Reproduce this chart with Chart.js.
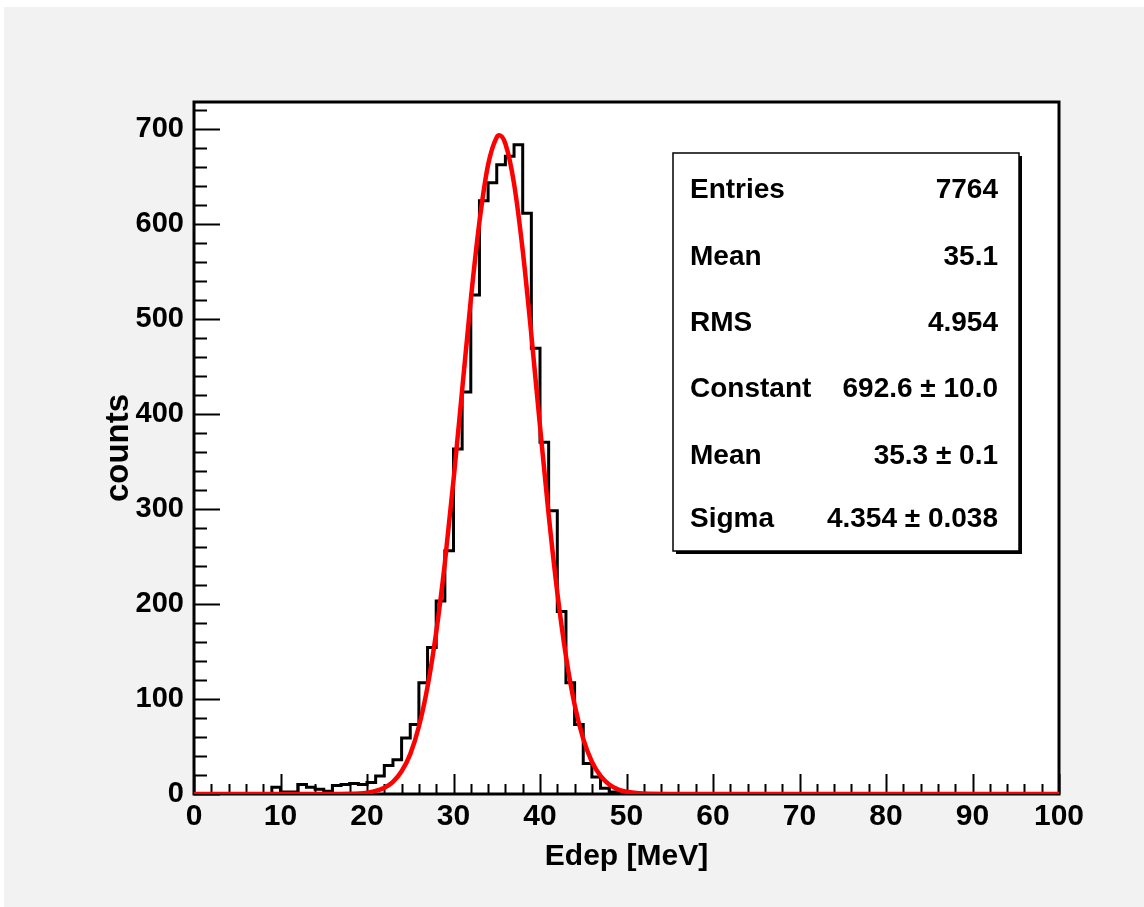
<!DOCTYPE html>
<html>
<head>
<meta charset="utf-8">
<title>Edep</title>
<script src="https://cdn.jsdelivr.net/npm/chart.js@4.4.1/dist/chart.umd.min.js"></script>
<style>
  body { margin: 0; background: #fff; }
  #wrap { position: absolute; left: 0; top: 0; width: 1144px; height: 907px; }
</style>
</head>
<body>
<div id="wrap"><canvas id="edep" width="1144" height="907"></canvas></div>
<script>
// histogram contents, 1 MeV bins from 0 to 100
const counts = [
    0, 0, 0, 0, 0, 0, 0, 0, 0, 7,
    2, 2, 10, 7, 5, 3, 9, 10, 11, 10,
    12, 19, 30, 36, 59, 73, 117, 154, 203, 256,
    363, 423, 525, 624, 643, 662, 671, 683, 611, 469,
    370, 298, 192, 117, 73, 32, 18, 6, 2, 1,
    0, 0, 0, 0, 0, 0, 0, 0, 0, 0,
    0, 0, 0, 0, 0, 0, 0, 0, 0, 0,
    0, 0, 0, 0, 0, 0, 0, 0, 0, 0,
    0, 0, 0, 0, 0, 0, 0, 0, 0, 0,
    0, 0, 0, 0, 0, 0, 0, 0, 0, 0
];

// red fit curve
const fitX = [0, 15, 18, 20, 21, 22, 23, 24, 25, 26, 27, 28, 29, 30, 31, 32, 33, 34, 35, 35.3,
              36, 37, 38, 39, 40, 41, 42, 43, 44, 45, 46, 47, 48, 49, 50, 52, 55, 100];
const fitY = [0, 0, 0.2, 1.4, 3.2, 6.5, 12.8, 24, 42, 71, 113, 170, 243, 330, 425, 520, 602, 662, 691, 693,
              684, 642, 572, 483, 387, 294, 212, 145, 94, 58, 34, 19, 10, 4.9, 2.3, 0.4, 0, 0];

const xTicks = [0, 10, 20, 30, 40, 50, 60, 70, 80, 90, 100];
const yTicks = [0, 100, 200, 300, 400, 500, 600, 700];

const statLabels = ['Entries', 'Mean', 'RMS', 'Constant', 'Mean', 'Sigma'];
const statValues = ['7764', '35.1', '4.954', '692.6 \u00b1 10.0', '35.3 \u00b1 0.1', '4.354 \u00b1 0.038'];

const FONT = '"Liberation Sans", Arial, Helvetica, sans-serif';

let histPoints = [];
for (let i = 0; i < counts.length; i++) {
    histPoints.push({x: i, y: counts[i]});
}
histPoints.push({x: counts.length, y: counts[counts.length - 1]});

let fitPoints = fitX.map((x, i) => ({x: x, y: fitY[i]}));

// ROOT style frame: grey pad, white frame, inward ticks, stats box
const rootFrame = {
    id: 'rootFrame',
    beforeDraw(chart) {
        const ctx = chart.ctx;
        const a = chart.chartArea;
        ctx.save();
        ctx.fillStyle = '#f2f2f2';
        ctx.fillRect(4, 7, chart.width - 4, chart.height - 7);
        ctx.fillStyle = '#fff';
        ctx.fillRect(a.left, a.top, a.right - a.left, a.bottom - a.top);
        ctx.restore();
    },
    beforeDatasetsDraw(chart) {
        const ctx = chart.ctx;
        const a = chart.chartArea;
        const xs = chart.scales.x;
        const ys = chart.scales.y;
        ctx.save();
        ctx.strokeStyle = '#000';
        ctx.lineWidth = 2;
        ctx.beginPath();
        for (let v = 0; v <= 100; v += 2) {
            let px = Math.round(xs.getPixelForValue(v)) + 0.5;
            let len = (v % 10 === 0) ? 20 : 10;
            ctx.moveTo(px, a.bottom);
            ctx.lineTo(px, a.bottom - len);
        }
        for (let v = 0; v <= ys.max; v += 20) {
            let py = Math.round(ys.getPixelForValue(v)) + 0.5;
            let len = (v % 100 === 0) ? 26 : 13;
            ctx.moveTo(a.left, py);
            ctx.lineTo(a.left + len, py);
        }
        ctx.stroke();
        ctx.lineWidth = 3;
        ctx.strokeRect(a.left, a.top, a.right - a.left, a.bottom - a.top);
        ctx.restore();
    },
    afterDraw(chart) {
        const ctx = chart.ctx;
        const bx = 673, by = 153, bw = 346, bh = 398;
        ctx.save();
        ctx.fillStyle = '#000';
        ctx.fillRect(bx + 3, by + 3, bw, bh);
        ctx.fillStyle = '#fff';
        ctx.fillRect(bx, by, bw, bh);
        ctx.strokeStyle = '#000';
        ctx.lineWidth = 1.5;
        ctx.strokeRect(bx, by, bw, bh);
        ctx.fillStyle = '#000';
        ctx.font = 'bold 28px ' + FONT;
        ctx.textBaseline = 'alphabetic';
        const baselines = [198, 265, 331, 397, 464, 527];
        for (let i = 0; i < statLabels.length; i++) {
            ctx.textAlign = 'left';
            ctx.fillText(statLabels[i], 690, baselines[i]);
            ctx.textAlign = 'right';
            ctx.fillText(statValues[i], 998, baselines[i]);
        }
        ctx.restore();
    }
};

const ctx = document.getElementById('edep').getContext('2d');
const chart = new Chart(ctx, {
    type: 'line',
    data: {
        datasets: [{
            label: 'fit',
            data: fitPoints,
            borderColor: '#ff0000',
            borderWidth: 4.5,
            pointRadius: 0,
            cubicInterpolationMode: 'monotone',
            fill: false,
            order: 0
        }, {
            label: 'Edep',
            data: histPoints,
            borderColor: '#000',
            borderWidth: 3,
            pointRadius: 0,
            stepped: 'before',
            fill: false,
            order: 1
        }]
    },
    options: {
        responsive: false,
        animation: false,
        layout: {
            padding: {left: 0, top: 102, right: 85, bottom: 0}
        },
        plugins: {
            legend: {display: false},
            tooltip: {enabled: false}
        },
        scales: {
            x: {
                type: 'linear',
                min: 0,
                max: 100,
                afterFit: function (scale) { scale.height = 113; },
                afterBuildTicks: function (scale) { scale.ticks = xTicks.map(v => ({value: v})); },
                grid: {display: false, drawTicks: false},
                border: {display: false},
                ticks: {
                    color: '#000',
                    padding: 5,
                    maxRotation: 0,
                    autoSkip: false,
                    font: {family: FONT, size: 30, weight: 'bold'}
                },
                title: {
                    display: true,
                    text: 'Edep [MeV]',
                    color: '#000',
                    font: {family: FONT, size: 30, weight: 'bold'},
                    padding: {top: 0, bottom: 32}
                }
            },
            y: {
                min: 0,
                max: 728,
                afterFit: function (scale) { scale.width = 194; },
                afterBuildTicks: function (scale) { scale.ticks = yTicks.map(v => ({value: v})); },
                grid: {display: false, drawTicks: false},
                border: {display: false},
                ticks: {
                    color: '#000',
                    padding: 10,
                    autoSkip: false,
                    font: {family: FONT, size: 29, weight: 'bold'}
                },
                title: {
                    display: true,
                    text: 'counts',
                    color: '#000',
                    font: {family: FONT, size: 33, weight: 'bold'},
                    padding: {top: 99, bottom: 0}
                }
            }
        }
    },
    plugins: [rootFrame]
});
</script>
</body>
</html>
